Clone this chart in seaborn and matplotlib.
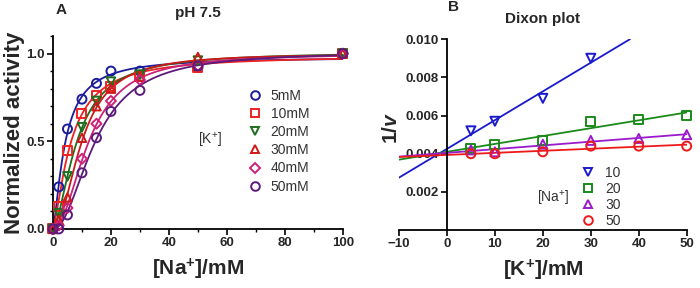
import numpy as np
import pandas as pd
import matplotlib
matplotlib.use("Agg")
import matplotlib.pyplot as plt
from matplotlib.lines import Line2D
from matplotlib.ticker import MultipleLocator
import seaborn as sns

sns.set_theme(style="ticks")
plt.rcParams['font.family'] = ['Liberation Sans', 'DejaVu Sans']
plt.rcParams['mathtext.fontset'] = 'custom'
plt.rcParams['mathtext.rm'] = 'Liberation Sans'
plt.rcParams['mathtext.bf'] = 'Liberation Sans:bold'
plt.rcParams['mathtext.it'] = 'Liberation Sans:italic'
plt.rcParams['mathtext.bfit'] = 'Liberation Sans:bold:italic'

# ---------------- Panel A data ----------------
na_conc = [0, 2, 5, 10, 15, 20, 30, 50, 100]
k_labels = ["5mM", "10mM", "20mM", "30mM", "40mM", "50mM"]
act_5 = [0.0, 0.24, 0.57, 0.74, 0.83, 0.90, 0.90, 0.92, 1.0]
act_10 = [0.0, 0.13, 0.45, 0.66, 0.76, 0.81, 0.87, 0.92, 1.0]
act_20 = [0.0, 0.09, 0.30, 0.58, 0.73, 0.84, 0.88, 0.96, 1.0]
act_30 = [0.0, 0.05, 0.18, 0.52, 0.70, 0.80, 0.87, 0.98, 1.0]
act_40 = [0.0, 0.02, 0.12, 0.40, 0.60, 0.73, 0.85, 0.93, 1.0]
act_50 = [0.0, 0.00, 0.08, 0.32, 0.52, 0.67, 0.79, 0.93, 1.0]
colors_a = ["#1c1c9a", "#ee2222", "#1d6e1d", "#cc1a1a", "#cc2277", "#5c1a7a"]
markers_a = ["o", "s", "v", "^", "D", "o"]
msize_a = [42, 42, 38, 38, 26, 42]

# ---------------- Panel B data ----------------
k_conc = [5, 10, 20, 30, 40, 50]
na_labels = ["10", "20", "30", "50"]
inv_v_10 = [0.0052, 0.0057, 0.0069, 0.0090]
inv_v_20 = [0.0043, 0.0045, 0.0047, 0.0057, 0.0058, 0.0060]
inv_v_30 = [0.0042, 0.0041, 0.0045, 0.0047, 0.0048, 0.0050]
inv_v_50 = [0.0040, 0.0040, 0.0041, 0.0044, 0.0044, 0.0044]
colors_b = ["#1a1acc", "#1a8a1a", "#9a1acc", "#ee1a1a"]
markers_b = ["v", "s", "^", "o"]

fig = plt.figure(figsize=(7.0, 2.88), dpi=100)
axA = fig.add_axes([0.0757, 0.205, 0.414, 0.670])
axB = fig.add_axes([0.570, 0.201, 0.411, 0.663])


def hill_fit(x, y):
    x = np.asarray(x, float)
    y = np.asarray(y, float)
    K = np.linspace(1, 30, 146)[:, None, None]
    n = np.linspace(0.8, 3.0, 45)[None, :, None]
    V = np.linspace(0.95, 1.25, 31)[None, None, :]
    sse = np.zeros((K.size, n.size, V.size))
    for xi, yi in zip(x, y):
        pred = V * xi ** n / (K ** n + xi ** n)
        sse += (pred - yi) ** 2
    i, j, k = np.unravel_index(np.argmin(sse), sse.shape)
    return K.ravel()[i], n.ravel()[j], V.ravel()[k]


def open_scatter(ax, xs, ys, color, marker, size):
    before = len(ax.collections)
    sns.scatterplot(data=pd.DataFrame({"x": xs, "y": ys}), x="x", y="y",
                    ax=ax, marker=marker, s=size, color=color,
                    linewidth=1.4, zorder=3, clip_on=False, legend=False)
    for coll in ax.collections[before:]:
        coll.set_facecolor("none")
        coll.set_edgecolor(color)
        coll.set_linewidth(1.4)


series_a = [act_5, act_10, act_20, act_30, act_40, act_50]
xx = np.linspace(0, 100, 400)
for lab, ys, c, m, s in zip(k_labels, series_a, colors_a, markers_a, msize_a):
    K, n, V = hill_fit(na_conc, ys)
    curve = pd.DataFrame({"x": xx, "y": V * xx ** n / (K ** n + xx ** n)})
    sns.lineplot(data=curve, x="x", y="y", ax=axA, color=c, lw=1.3)
    open_scatter(axA, na_conc, ys, c, m, s)

axA.set_xlim(0, 100)
axA.set_ylim(0, 1.1)
axA.xaxis.set_major_locator(MultipleLocator(20))
axA.xaxis.set_minor_locator(MultipleLocator(10))
axA.yaxis.set_minor_locator(MultipleLocator(0.1))
axA.set_yticks([0, 0.5, 1.0])
axA.set_yticklabels(["0.0", "0.5", "1.0"])
sns.despine(ax=axA)
axA.set_xlabel("[Na$^{\\mathbf{+}}$]/mM", fontsize=15, fontweight="bold",
               labelpad=5)
axA.set_ylabel("Normalized activity", fontsize=16, fontweight="bold",
               labelpad=1)
axA.set_title("pH 7.5", fontsize=11, fontweight="bold", pad=14)
fig.text(0.080, 0.965, "A", fontsize=11, fontweight="bold", va="center")

hA = [Line2D([], [], ls="", marker=m, mfc="none", mec=c, mew=1.4,
             ms=(6.2 if m != "D" else 4.8))
      for c, m in zip(colors_a, markers_a)]
axA.legend(hA, k_labels, loc="upper left", bbox_to_anchor=(0.655, 0.755),
           frameon=False, fontsize=10, handlelength=1.0, handletextpad=0.6,
           labelspacing=0.30, borderaxespad=0, labelcolor="#333333")
axA.text(0.50, 0.46, "[K$^{+}$]", transform=axA.transAxes, fontsize=10,
         color="#333333", va="center", ha="left")

# ---------------- Panel B ----------------
series_b = [inv_v_10, inv_v_20, inv_v_30, inv_v_50]
for lab, ys, c, m in zip(na_labels, series_b, colors_b, markers_b):
    xs = k_conc[:len(ys)]
    slope, icpt = np.polyfit(xs, ys, 1)
    x_end = min(50.0, (0.0100 - icpt) / slope) if slope > 0 else 50.0
    lx = np.linspace(-10, x_end, 100)
    sns.lineplot(data=pd.DataFrame({"x": lx, "y": slope * lx + icpt}),
                 x="x", y="y", ax=axB, color=c, lw=1.3)
    open_scatter(axB, xs, ys, c, m, 42)

axB.set_xlim(-10, 50)
axB.set_ylim(0, 0.010)
axB.spines["left"].set_position(("data", 0))
axB.set_xticks([-10, 0, 10, 20, 30, 40, 50])
axB.set_yticks([0.002, 0.004, 0.006, 0.008, 0.010])
axB.set_yticklabels(["0.002", "0.004", "0.006", "0.008", "0.010"])
sns.despine(ax=axB)
axB.set_xlabel("[K$^{\\mathbf{+}}$]/mM", fontsize=15, fontweight="bold",
               labelpad=5)
axB.set_ylabel("")
fig.text(0.559, 0.555, "1/$\\mathbfit{v}$", rotation=90, fontsize=15,
         fontweight="bold", ha="center", va="center")
axB.set_title("Dixon plot", fontsize=11, fontweight="bold", pad=12)
fig.text(0.640, 0.975, "B", fontsize=11, fontweight="bold", va="center")

hB = [Line2D([], [], ls="", marker=m, mfc="none", mec=c, mew=1.4, ms=6.2)
      for c, m in zip(colors_b, markers_b)]
axB.legend(hB, na_labels, loc="upper left", bbox_to_anchor=(0.615, 0.365),
           frameon=False, fontsize=10, handlelength=1.0, handletextpad=0.7,
           labelspacing=0.15, borderaxespad=0, labelcolor="#333333")
axB.text(0.48, 0.165, "[Na$^{+}$]", transform=axB.transAxes, fontsize=10,
         color="#333333", va="center", ha="left")

for ax in (axA, axB):
    ax.tick_params(axis="both", which="major", labelsize=9.5, length=4,
                   width=1.2, color="black", pad=2)
    ax.tick_params(axis="both", which="minor", length=2.5, width=1.0,
                   color="black")
    for lbl in ax.get_xticklabels() + ax.get_yticklabels():
        lbl.set_fontweight("bold")
    for sp in ax.spines.values():
        sp.set_linewidth(1.3)
        sp.set_color("black")

fig.savefig("out.png", dpi=100)
